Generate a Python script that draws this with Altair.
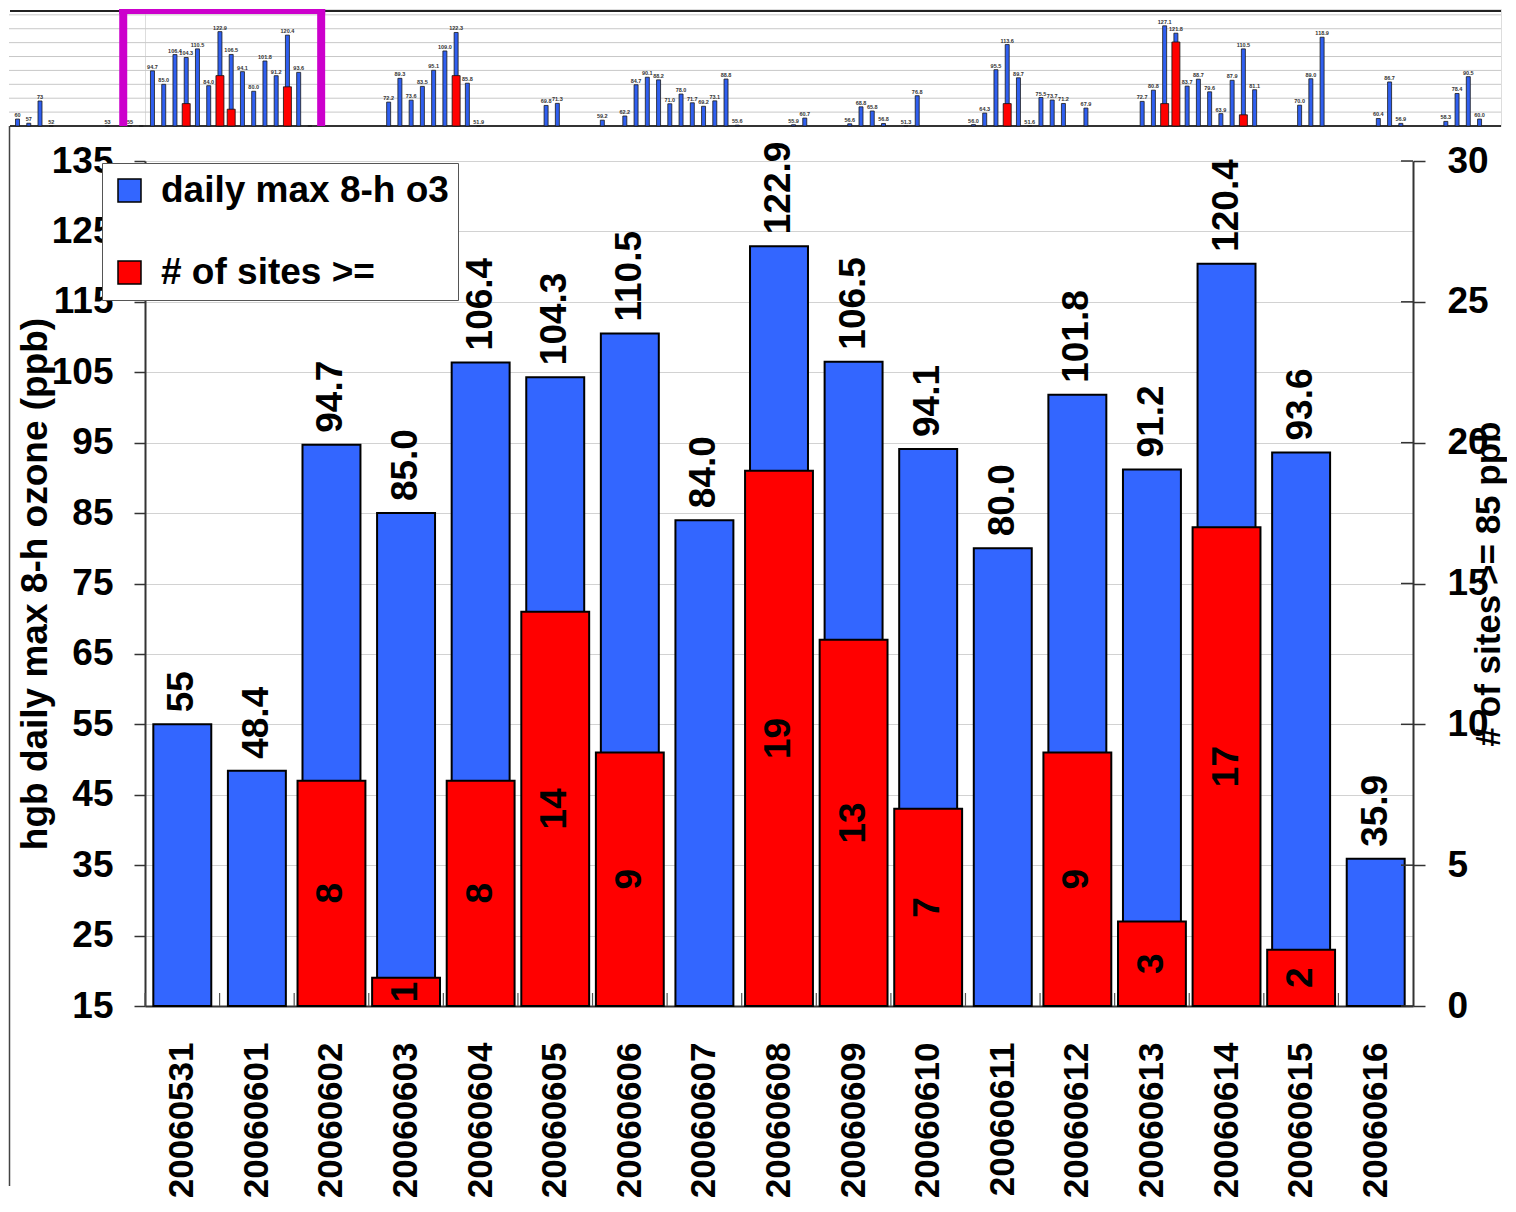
import altair as alt
import pandas as pd

FONT = "Liberation Sans"
BLUE = "#3366FF"
RED = "#FF0000"
MAGENTA = "#CC00CC"

# ---------------- main chart data ----------------
dates = ["20060531", "20060601", "20060602", "20060603", "20060604", "20060605",
         "20060606", "20060607", "20060608", "20060609", "20060610", "20060611",
         "20060612", "20060613", "20060614", "20060615", "20060616"]
o3_values = [55.0, 48.4, 94.7, 85.0, 106.4, 104.3, 110.5, 84.0, 122.9, 106.5,
             94.1, 80.0, 101.8, 91.2, 120.4, 93.6, 35.9]
o3_labels = ["55", "48.4", "94.7", "85.0", "106.4", "104.3", "110.5", "84.0", "122.9",
             "106.5", "94.1", "80.0", "101.8", "91.2", "120.4", "93.6", "35.9"]
site_counts = [0, 0, 8, 1, 8, 14, 9, 0, 19, 13, 7, 0, 9, 3, 17, 2, 0]
left_ticks = [15, 25, 35, 45, 55, 65, 75, 85, 95, 105, 115, 125, 135]
right_ticks = [0, 5, 10, 15, 20, 25, 30]
series_names = ["daily max 8-h o3", "# of sites >="]
left_title = "hgb daily max 8-h ozone (ppb)"
right_title = "# of sites >= 85 ppb"

# ---------------- overview strip data ----------------
strip_days = [0, 1, 2, 3, 8, 10, 11, 12, 13, 14, 15, 16, 17, 18, 19, 20, 21, 22, 23, 24, 25, 26,
              33, 34, 35, 36, 37, 38, 39, 40, 41, 47, 48, 52, 54, 55, 56, 57, 58, 59, 60, 61,
              62, 63, 64, 69, 70, 74, 75, 76, 77, 79, 80, 85, 86, 87, 88, 89, 90, 91, 92, 93,
              95, 100, 101, 102, 103, 104, 105, 106, 107, 108, 109, 110, 114, 115, 116, 121,
              122, 123, 127, 128, 129, 130, 131, 133]
strip_text = ["60", "57", "73", "52", "53", "55", "48.4", "94.7", "85.0", "106.4", "104.3",
              "110.5", "84.0", "122.9", "106.5", "94.1", "80.0", "101.8", "91.2", "120.4",
              "93.6", "35.9",
              "72.2", "89.3", "73.6", "83.5", "95.1", "109.0", "122.3", "85.8", "51.9",
              "69.8", "71.3", "59.2", "62.2", "84.7", "90.1", "88.2", "71.0", "78.0", "71.7",
              "69.2", "73.1", "88.8", "55.6", "55.9", "60.7", "56.6", "68.8", "65.8", "56.8",
              "51.3", "76.8", "56.0", "64.3", "95.5", "113.6", "89.7", "51.6", "75.5", "73.7",
              "71.2", "67.9", "72.7", "80.8", "127.1", "121.8", "83.7", "88.7", "79.6", "63.9",
              "87.9", "110.5", "81.1", "70.0", "89.0", "118.9", "60.4", "86.7", "56.9", "58.3",
              "78.4", "90.5", "60.0", "67.1", "59.0"]
strip_red_days = [12, 13, 14, 15, 16, 18, 19, 20, 22, 23, 24, 25, 39, 88, 102, 103, 109]
strip_red_sites = [8, 1, 8, 14, 9, 19, 13, 7, 9, 3, 17, 2, 19, 14, 14, 25, 12]
strip_grid = [65, 75, 85, 95, 105, 115, 125, 135]
highlight_days = [9.4, 27.0]

# ---------------- layout constants ----------------
MAIN_W, MAIN_H = 1268, 845
STRIP_W, STRIP_H = 1356, 117
LEFT_EXT = -135
DAY_PX = 11.33
X_LO = 11.78
X_HI = X_LO + STRIP_W / DAY_PX
TXT = dict(font=FONT, fontWeight="bold")

# ================= main chart =================
main_df = pd.DataFrame({
    "date": dates, "o3": o3_values, "o3_label": o3_labels, "sites": site_counts,
    "blue_series": series_names[0], "red_series": series_names[1],
})

x_axis = alt.Axis(title=None, labelAngle=270, labelAlign="right", labelBaseline="middle",
                  labelFont=FONT, labelFontSize=35, labelFontWeight="bold", labelColor="black",
                  labelPadding=36, labelLimit=400, ticks=False, tickSize=0,
                  domainColor="#333333", domainWidth=2, labelOverlap=False)
x_scale = alt.Scale(paddingInner=0, paddingOuter=0)


def xenc(**kw):
    return alt.X("date:N", sort=dates, scale=x_scale, axis=x_axis, **kw)


left_axis = alt.Axis(orient="left", values=left_ticks, title=left_title,
                     titleFont=FONT, titleFontSize=37, titleFontWeight="bold", titleColor="black",
                     titlePadding=-3, labelFont=FONT, labelFontSize=37, labelFontWeight="bold",
                     labelColor="black", labelPadding=21, tickSize=11, tickColor="#333333",
                     tickWidth=1.5, domainColor="#333333", domainWidth=2, grid=True,
                     gridColor="#d2d2d2", gridWidth=1.2, labelOverlap=False)
left_scale = alt.Scale(domain=[15, 135], nice=False, zero=False)

right_axis = alt.Axis(orient="right", values=right_ticks, title=right_title,
                      titleFont=FONT, titleFontSize=35, titleFontWeight="bold", titleColor="black",
                      titleAngle=270, titleBaseline="top", titlePadding=-17,
                      labelFont=FONT, labelFontSize=37, labelFontWeight="bold", labelColor="black",
                      labelPadding=22, tickSize=12, tickColor="#333333", tickWidth=1.5,
                      domainColor="#333333", domainWidth=2, grid=False, labelOverlap=False)
right_scale = alt.Scale(domain=[0, 30], nice=False, zero=True)

color_scale = alt.Scale(domain=series_names, range=[BLUE, RED])
legend = alt.Legend(title=None, orient="none", legendX=-43, legendY=2, direction="vertical",
                    fillColor="white", strokeColor="#555555", padding=9,
                    labelFont=FONT, labelFontSize=37, labelFontWeight="bold", labelColor="black",
                    labelLimit=500, labelOffset=13, rowPadding=44,
                    symbolType="square", symbolSize=529, symbolStrokeColor="black",
                    symbolStrokeWidth=1.5, symbolOpacity=1)

blue_bars = alt.Chart(main_df).mark_bar(
    width=alt.RelativeBandSize(0.777), stroke="black", strokeWidth=2
).encode(
    x=xenc(),
    y=alt.Y("o3:Q", scale=left_scale, axis=left_axis, title=left_title),
    y2=alt.datum(15),
    color=alt.Color("blue_series:N", scale=color_scale, legend=legend),
)

band_ticks = alt.Chart(main_df).mark_rule(color="#555555", strokeWidth=1.2).encode(
    x=xenc(bandPosition=0),
    y=alt.value(MAIN_H - 13),
    y2=alt.value(MAIN_H),
)

blue_text = alt.Chart(main_df).mark_text(
    angle=270, align="left", baseline="middle", dx=12, fontSize=37, color="black", **TXT
).encode(
    x=xenc(),
    y=alt.Y("o3:Q", scale=left_scale, axis=left_axis, title=left_title),
    text="o3_label:N",
)

edge_line = alt.Chart(pd.DataFrame({"k": [0]})).mark_rule(color="#444444", strokeWidth=1.5).encode(
    x=alt.value(LEFT_EXT - 0.5), y=alt.value(-35), y2=alt.value(1025)
)

blue_layer = alt.layer(blue_bars, band_ticks, blue_text, edge_line)

red_base = alt.Chart(main_df).transform_filter("datum.sites > 0")
red_bars = red_base.mark_bar(
    width=alt.RelativeBandSize(0.91), stroke="black", strokeWidth=2
).encode(
    x=xenc(),
    y=alt.Y("sites:Q", scale=right_scale, axis=right_axis, title=right_title),
    y2=alt.datum(0),
    color=alt.Color("red_series:N", scale=color_scale, legend=legend),
)
red_text = red_base.transform_calculate(mid="datum.sites / 2").mark_text(
    angle=270, align="center", baseline="middle", fontSize=37, color="black", **TXT
).encode(
    x=xenc(),
    y=alt.Y("mid:Q", scale=right_scale, axis=right_axis, title=right_title),
    text="sites:Q",
)
# inner half of the right axis' crossing tick marks
right_inner_ticks = alt.Chart(pd.DataFrame({"t": right_ticks})).mark_rule(
    color="#333333", strokeWidth=1.5
).encode(
    y=alt.Y("t:Q", scale=right_scale, axis=right_axis, title=right_title),
    x=alt.value(MAIN_W - 12), x2=alt.value(MAIN_W),
)
red_layer = alt.layer(red_bars, red_text, right_inner_ticks)

main = alt.layer(blue_layer, red_layer).resolve_scale(y="independent").properties(
    width=MAIN_W, height=MAIN_H
)

# ================= overview strip =================
strip_df = pd.DataFrame({"day": strip_days, "value": [float(t) for t in strip_text],
                         "label": strip_text})
red_df = pd.DataFrame({"day": strip_red_days, "sites": strip_red_sites})
box_df = pd.DataFrame({"start": [highlight_days[0]], "end": [highlight_days[1]]})

sx_scale = alt.Scale(domain=[X_LO, X_HI], nice=False, zero=False)
sy_scale = alt.Scale(domain=[55, 139.2], nice=False, zero=False, clamp=True)
sred_scale = alt.Scale(domain=[10, 30.9], nice=False, zero=False, clamp=True)
in_view = f"datum.day <= {X_HI - 0.5}"

grid = alt.Chart(pd.DataFrame({"g": strip_grid})).mark_rule(color="#c8c8c8", strokeWidth=1).encode(
    y=alt.Y("g:Q", scale=sy_scale, axis=None), x=alt.value(LEFT_EXT - 1), x2=alt.value(STRIP_W)
)
baseline = alt.Chart(pd.DataFrame({"g": [55]})).mark_rule(color="#333333", strokeWidth=2).encode(
    y=alt.Y("g:Q", scale=sy_scale, axis=None), x=alt.value(LEFT_EXT), x2=alt.value(STRIP_W)
)
top_line = alt.Chart(pd.DataFrame({"k": [0]})).mark_rule(color="#222222", strokeWidth=2).encode(
    y=alt.value(2), x=alt.value(LEFT_EXT), x2=alt.value(STRIP_W)
)
sbars = alt.Chart(strip_df).transform_filter(in_view).mark_bar(
    width=4, color="#2f5ff0", stroke="#1a1a1a", strokeWidth=0.8
).encode(
    x=alt.X("day:Q", scale=sx_scale, axis=None),
    y=alt.Y("value:Q", scale=sy_scale, axis=None),
    y2=alt.datum(55),
)
slabels = alt.Chart(strip_df).transform_filter(f"datum.value >= 50 && {in_view}").mark_text(
    dy=-4, fontSize=5.5, color="#333333", **TXT
).encode(
    x=alt.X("day:Q", scale=sx_scale, axis=None),
    y=alt.Y("value:Q", scale=sy_scale, axis=None),
    text="label:N",
)
box_left = alt.Chart(box_df).mark_rect(color=MAGENTA, xOffset=-4, x2Offset=4).encode(
    x=alt.X("start:Q", scale=sx_scale, axis=None), x2="start:Q",
    y=alt.value(0), y2=alt.value(STRIP_H),
)
box_right = alt.Chart(box_df).mark_rect(color=MAGENTA, xOffset=-4, x2Offset=4).encode(
    x=alt.X("end:Q", scale=sx_scale, axis=None), x2="end:Q",
    y=alt.value(0), y2=alt.value(STRIP_H),
)
box_top = alt.Chart(box_df).mark_rect(color=MAGENTA, xOffset=-4, x2Offset=4).encode(
    x=alt.X("start:Q", scale=sx_scale, axis=None), x2="end:Q",
    y=alt.value(0), y2=alt.value(5),
)
sred = alt.Chart(red_df).transform_filter("datum.sites > 10").mark_bar(
    width=8, color=RED, stroke="#111111", strokeWidth=0.8
).encode(
    x=alt.X("day:Q", scale=sx_scale, axis=None),
    y=alt.Y("sites:Q", scale=sred_scale, axis=None),
    y2=alt.datum(10),
)

strip = alt.layer(
    alt.layer(grid, baseline, top_line, sbars, slabels, box_left, box_right, box_top), sred
).resolve_scale(y="independent").properties(width=STRIP_W, height=STRIP_H)

chart = alt.vconcat(strip, main, spacing=35, bounds="flush").resolve_scale(
    x="independent", y="independent", color="independent"
).properties(padding=0).configure_view(strokeWidth=0).configure(font=FONT)

chart.save("out.html", embed_options={"renderer": "svg", "actions": False})
